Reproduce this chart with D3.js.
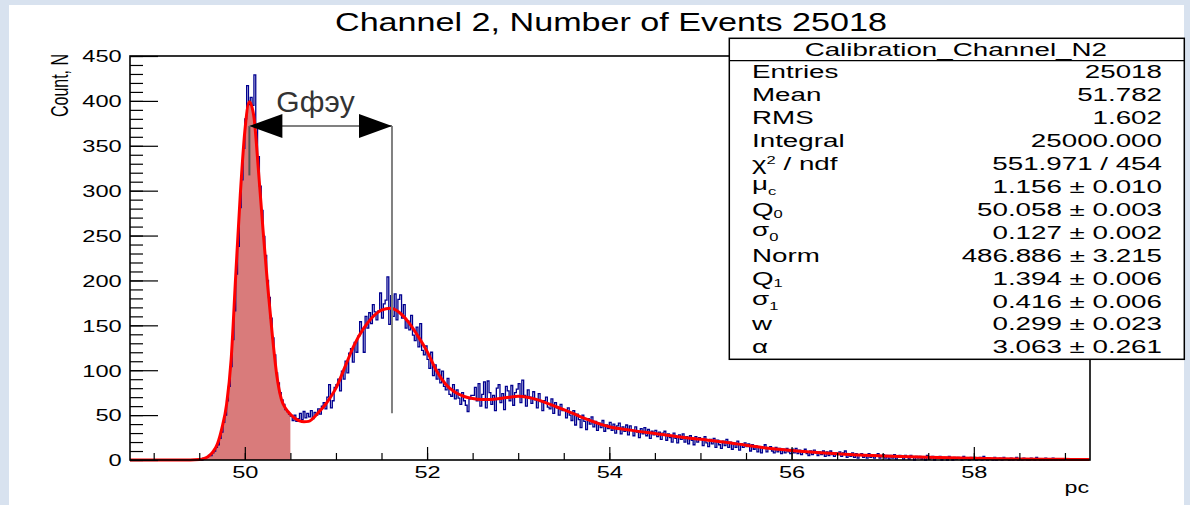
<!DOCTYPE html>
<html>
<head>
<meta charset="utf-8">
<script src="https://cdn.jsdelivr.net/npm/d3@7"></script>
<style>
  html, body { margin: 0; padding: 0; background: #fff; }
  svg { display: block; }
</style>
</head>
<body>
<svg id="chart" width="1190" height="505"></svg>
<script>
// histogram: 0.02 pc bins starting at 49.50
const binStart = 49.50;
const binWidth = 0.02;
const counts = [
  1,0,2,2,3,5,5,8,10,14,17,24,31,42,50,66,82,104,134,166,207,238,281,312,347,           // 49.50
  380,417,396,404,395,429,372,338,305,278,249,228,200,181,158,136,117,97,86,75,67,62,56,54,51, // 50.00
  49,44,50,43,46,52,45,54,47,52,48,55,46,53,50,57,51,60,64,57,70,84,58,66,81,            // 50.50
  84,90,77,99,90,110,97,119,124,109,131,120,138,154,143,120,160,147,164,152,173,165,156,166,186, // 51.00
  158,174,178,204,151,183,160,185,156,179,184,158,173,147,155,145,161,139,133,148,126,152,122,117,127, // 51.50
  112,102,120,94,106,90,101,86,99,82,78,91,73,71,84,68,78,69,62,75,66,61,54,68,72,        // 52.00
  72,81,66,85,60,73,87,58,88,75,62,72,55,80,84,64,74,56,82,77,66,83,61,75,79,            // 52.50
  85,64,89,72,60,78,70,63,76,67,58,74,65,55,66,70,59,57,68,52,64,58,50,62,55,            // 53.00
  56,47,58,50,44,55,39,51,45,36,50,43,34,46,40,48,37,43,33,41,36,44,32,39,35,            // 53.50
  42,33,40,30,38,41,29,37,32,39,28,38,33,27,37,31,25,35,29,36,27,34,24,32,28,            // 54.00
  33,26,31,23,30,32,22,29,25,20,30,24,19,28,23,29,20,26,18,27,22,17,26,20,25,            // 54.50
  23,16,26,19,15,23,18,24,14,22,17,13,21,16,23,14,20,12,19,14,21,11,18,14,19,            // 55.00
  15,18,10,17,12,16,9,15,8,14,17,9,13,15,10,8,14,9,13,7,12,8,13,9,7,                     // 55.50
  12,8,13,7,11,6,10,12,7,5,10,6,11,8,5,9,6,10,4,9,5,10,6,4,8,                             // 56.00
  6,9,4,8,10,3,7,4,8,3,7,2,6,7,3,6,2,7,3,6,2,5,7,2,4,                                     // 56.50
  6,2,5,1,5,2,6,1,3,5,3,1,5,3,1,5,3,0,4,2,4,1,3,0,5,1,2,4,0,2,                            // 57.00
  3,4,0,2,3,0,4,2,0,3,1,3,2,0,4,1,2,0,3,1,
  3,0,1,3,0,4,1,0,2,1,0,3,0,1,2,0,3,1,1,0,2,0,1,3,0,1,0,2,1,0,                            // 58.00
  0,2,1,0,3,1,0,1,0,2,0,1,0,2,0,0,1,0,1,0
];

// fit curve
const fitX = [48.74, 49.40, 49.50, 49.55, 49.60, 49.65, 49.70, 49.75, 49.80, 49.85, 49.90, 49.95,
  50.00, 50.05, 50.10, 50.15, 50.20, 50.25, 50.30, 50.35, 50.40, 50.45, 50.50, 50.55, 50.60, 50.65,
  50.70, 50.80, 50.90, 51.00, 51.10, 51.20, 51.30, 51.40, 51.50, 51.60, 51.70, 51.80, 51.90, 52.00,
  52.10, 52.20, 52.30, 52.40, 52.50, 52.60, 52.70, 52.80, 52.90, 53.00, 53.10, 53.20, 53.30, 53.40,
  53.50, 53.60, 53.70, 53.80, 53.90, 54.00, 54.25, 54.50, 54.75, 55.00, 55.25, 55.50, 55.75, 56.00,
  56.25, 56.50, 56.75, 57.00, 57.50, 58.00, 58.50, 59.00, 59.27];
const fitY = [0, 0, 0.5, 1.5, 4, 9, 18, 36, 62, 112, 205, 295,
  366, 399, 382, 322, 256, 195, 141, 95, 68, 57, 51, 46.5, 43.5, 42.5,
  43, 52, 64, 80, 104, 128, 146, 159, 167, 169, 164, 153, 138, 121,
  100, 85, 76, 71, 68.5, 67.5, 67.5, 68.5, 70, 71, 70, 67.5, 64, 60,
  56, 52, 47.5, 43.5, 40, 37, 33, 29.5, 26, 23, 20, 16.5, 13, 10.5,
  8.5, 7, 5.5, 4.5, 3, 2, 1.2, 0.7, 0.5];
const fillRange = [49.4, 50.5];

const xMajor = [50, 52, 54, 56, 58];
const xMinor = d3.range(49, 59.01, 0.5);
const yMajor = d3.range(0, 451, 50);
const yMinor = d3.range(0, 451, 10);

// annotation: distance between pedestal and 1st p.e. peak
const arrowX = [50.05, 51.615];
const arrowY = 372;
const arrowDrop = [317, 52];   // lower ends of the two vertical markers
const arrowLabel = "Gфэу";

const statTitle = "Calibration_Channel_N2";
const statLabels = ["Entries", "Mean", "RMS", "Integral", "χ^2 / ndf", "μ_c", "Q_0", "σ_0",
  "Norm", "Q_1", "σ_1", "w", "α"];
const statValues = ["25018", "51.782", "1.602", "25000.000", "551.971 / 454",
  "1.156 ± 0.010", "50.058 ± 0.003", "0.127 ± 0.002", "486.886 ± 3.215",
  "1.394 ± 0.006", "0.416 ± 0.006", "0.299 ± 0.023", "3.063 ± 0.261"];

const FONT = '"Liberation Sans", Arial, Helvetica, sans-serif';
const SX = 1.45;   // the original picture is stretched sideways

const svg = d3.select("#chart");

// background panel
svg.append("rect").attr("width", 1190).attr("height", 505).attr("fill", "#d8e2ef");
svg.append("rect").attr("x", 9).attr("y", 5).attr("width", 1175).attr("height", 500).attr("fill", "#fff");

const x = d3.scaleLinear().domain([48.74, 59.275]).range([130, 1090]);
const y = d3.scaleLinear().domain([0, 450]).range([460, 56]);

const fitPts = fitX.map((v, i) => [v, fitY[i]]);

// shaded pedestal under the fit
svg.append("path")
  .datum(fitPts.filter(d => d[0] >= fillRange[0] && d[0] <= fillRange[1]))
  .attr("d", d3.area().x(d => x(d[0])).y0(y(0)).y1(d => y(d[1])).curve(d3.curveMonotoneX))
  .attr("fill", "#d97b7b");

// histogram outline
const hp = d3.path();
hp.moveTo(x(binStart), y(0));
counts.forEach((c, i) => {
  hp.lineTo(x(binStart + i * binWidth), y(c));
  hp.lineTo(x(binStart + (i + 1) * binWidth), y(c));
});
hp.lineTo(x(binStart + counts.length * binWidth), y(0));
svg.append("path")
  .attr("d", hp.toString())
  .attr("fill", "none")
  .attr("stroke", "#00008f")
  .attr("stroke-width", 1.3);

// fit
svg.append("path")
  .datum(fitPts)
  .attr("d", d3.line().x(d => x(d[0])).y(d => y(d[1])).curve(d3.curveMonotoneX))
  .attr("fill", "none")
  .attr("stroke", "#ff0000")
  .attr("stroke-width", 3);

// annotation lines + arrows
const ay = y(arrowY);
svg.append("line")
  .attr("x1", x(arrowX[0])).attr("x2", x(arrowX[0]))
  .attr("y1", ay).attr("y2", y(arrowDrop[0]))
  .attr("stroke", "#555").attr("stroke-width", 2);
svg.append("line")
  .attr("x1", x(arrowX[1])).attr("x2", x(arrowX[1]))
  .attr("y1", ay).attr("y2", y(arrowDrop[1]))
  .attr("stroke", "#808080").attr("stroke-width", 2);
svg.append("line")
  .attr("x1", x(arrowX[0])).attr("x2", x(arrowX[1]))
  .attr("y1", ay).attr("y2", ay)
  .attr("stroke", "#808080").attr("stroke-width", 2);
const headL = 33, headH = 12;
[[x(arrowX[0]), 1], [x(arrowX[1]), -1]].forEach(([tx, dir]) => {
  svg.append("path")
    .attr("d", `M${tx},${ay} L${tx + dir * headL},${ay - headH} L${tx + dir * headL},${ay + headH} Z`)
    .attr("fill", "#000");
});
svg.append("text")
  .attr("x", x(arrowX[0]) + 27).attr("y", 112)
  .attr("font-family", FONT).attr("font-size", 30).attr("fill", "#333")
  .text(arrowLabel);

// axes
function styleTicks(g) {
  g.select(".domain").remove();
  g.selectAll(".tick line").attr("stroke", "#000").attr("stroke-width", 1.2);
}
svg.append("g").attr("transform", "translate(0,460)")
  .call(d3.axisBottom(x).tickValues(xMinor).tickSize(-7).tickFormat(""))
  .call(styleTicks);
const gxMaj = svg.append("g").attr("transform", "translate(0,460)")
  .call(d3.axisBottom(x).tickValues(xMajor).tickSize(-13).tickFormat(d3.format("d")))
  .call(styleTicks);
gxMaj.selectAll(".tick text")
  .attr("y", 18).attr("dy", 0)
  .attr("transform", `scale(${SX},1)`)
  .attr("font-family", FONT).attr("font-size", 16.3).attr("fill", "#000");

svg.append("g").attr("transform", "translate(130,0)")
  .call(d3.axisLeft(y).tickValues(yMinor).tickSize(-13).tickFormat(""))
  .call(styleTicks);
const gyMaj = svg.append("g").attr("transform", "translate(130,0)")
  .call(d3.axisLeft(y).tickValues(yMajor).tickSize(-28).tickFormat(d3.format("d")))
  .call(styleTicks);
gyMaj.selectAll(".tick text")
  .attr("x", -8.3 / SX).attr("dy", 0).attr("y", 5.8)
  .attr("transform", `scale(${SX},1)`)
  .attr("font-family", FONT).attr("font-size", 16.3).attr("fill", "#000");

// frame
svg.append("rect")
  .attr("x", x.range()[0]).attr("y", y.range()[1])
  .attr("width", x.range()[1] - x.range()[0])
  .attr("height", y.range()[0] - y.range()[1])
  .attr("fill", "none").attr("stroke", "#000").attr("stroke-width", 1.6);

// axis titles
svg.append("text")
  .attr("transform", `translate(68,85.5) scale(${SX},1) rotate(-90)`)
  .attr("text-anchor", "middle")
  .attr("font-family", FONT).attr("font-size", 16).attr("fill", "#000")
  .text("Count, N");
svg.append("text")
  .attr("transform", `translate(1089,493) scale(${SX},1)`)
  .attr("text-anchor", "end")
  .attr("font-family", FONT).attr("font-size", 16).attr("fill", "#000")
  .text("pc");

// title
svg.append("text")
  .attr("x", 611).attr("y", 31)
  .attr("text-anchor", "middle")
  .attr("textLength", 552).attr("lengthAdjust", "spacingAndGlyphs")
  .attr("font-family", FONT).attr("font-size", 26).attr("fill", "#000")
  .text("Channel 2, Number of Events 25018");

// stats box
const box = { x: 729.3, y: 38.3, w: 455, h: 321, head: 60.7 };
svg.append("rect")
  .attr("x", box.x).attr("y", box.y).attr("width", box.w).attr("height", box.h)
  .attr("fill", "#fff").attr("stroke", "#000").attr("stroke-width", 1.5);
svg.append("line")
  .attr("x1", box.x).attr("x2", box.x + box.w)
  .attr("y1", box.head).attr("y2", box.head)
  .attr("stroke", "#000").attr("stroke-width", 1.2);
svg.append("text")
  .attr("transform", `translate(${box.x + box.w / 2 - 1},55.5) scale(1.5,1)`)
  .attr("text-anchor", "middle")
  .attr("font-family", FONT).attr("font-size", 18.5).attr("fill", "#000")
  .text(statTitle);

const rowY = i => 78.3 + i * 22.92;
const greek = /[μσ]/;
statLabels.forEach((lab, i) => {
  const t = svg.append("text")
    .attr("transform", `translate(752,${rowY(i)}) scale(1.5,1)`)
    .attr("font-family", FONT).attr("font-size", 18.5).attr("fill", "#000");
  if (lab.includes("_")) {
    const [main, sub] = lab.split("_");
    const raise = greek.test(main) ? 3 : 0;
    t.append("tspan").attr("dy", -raise).text(main);
    t.append("tspan").attr("dy", raise + 2).attr("font-size", 11).text(sub);
  } else if (lab.includes("^")) {
    const [main, rest] = lab.split("^");
    t.append("tspan").text(main);
    t.append("tspan").attr("dy", -6).attr("font-size", 11).text(rest[0]);
    t.append("tspan").attr("dy", 6).text(rest.slice(1));
  } else {
    t.text(lab);
  }
});
statValues.forEach((v, i) => {
  svg.append("text")
    .attr("transform", `translate(1162,${rowY(i)}) scale(1.5,1)`)
    .attr("text-anchor", "end")
    .attr("font-family", FONT).attr("font-size", 18.5).attr("fill", "#000")
    .text(v);
});
</script>
</body>
</html>
